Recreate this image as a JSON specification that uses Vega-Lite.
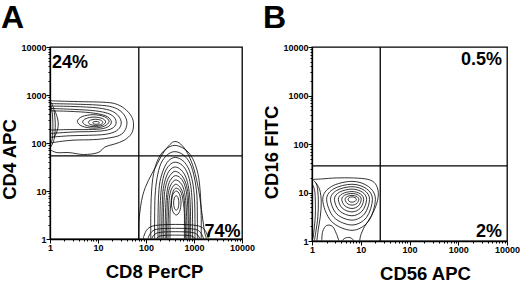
{
  "$schema": "https://vega.github.io/schema/vega-lite/v6.json",
  "padding": {"left": 0, "top": 1, "right": 0, "bottom": 0},
  "spacing": 6,
  "config": {
    "font": "Liberation Sans",
    "view": {"stroke": "black", "strokeWidth": 1.3},
    "axis": {
      "grid": false, "domainColor": "black", "domainWidth": 1.3, "tickColor": "black", "tickWidth": 1, "tickCount": 100,
      "labelColor": "black", "titleColor": "black", "labelFontSize": 9, "labelFontWeight": "bold",
      "titleFontSize": 18.5, "titleFontWeight": "bold", "labelFlush": false, "labelOverlap": false, "labelPadding": 0
    },
    "title": {"fontSize": 32, "fontWeight": "bold", "anchor": "start", "color": "black", "offset": 8}
  },
  "datasets": {
    "a_open": [
      {"ring":"R1","i":0,"cd8":0.02,"cd4":2.88},{"ring":"R1","i":1,"cd8":0.3,"cd4":2.87},{"ring":"R1","i":2,"cd8":0.7,"cd4":2.86},{"ring":"R1","i":3,"cd8":1.1,"cd4":2.85},{"ring":"R1","i":4,"cd8":1.35,"cd4":2.82},{"ring":"R1","i":5,"cd8":1.55,"cd4":2.72},{"ring":"R1","i":6,"cd8":1.7,"cd4":2.55},{"ring":"R1","i":7,"cd8":1.74,"cd4":2.38},{"ring":"R1","i":8,"cd8":1.7,"cd4":2.2},{"ring":"R1","i":9,"cd8":1.55,"cd4":2.06},{"ring":"R1","i":10,"cd8":1.35,"cd4":1.98},{"ring":"R1","i":11,"cd8":1.15,"cd4":1.92},{"ring":"R1","i":12,"cd8":1.0,"cd4":1.8},{"ring":"R1","i":13,"cd8":0.7,"cd4":1.76},{"ring":"R1","i":14,"cd8":0.4,"cd4":1.8},{"ring":"R1","i":15,"cd8":0.15,"cd4":1.8},{"ring":"R1","i":16,"cd8":0.02,"cd4":1.85},
      {"ring":"R2","i":0,"cd8":0.02,"cd4":2.82},{"ring":"R2","i":1,"cd8":0.5,"cd4":2.81},{"ring":"R2","i":2,"cd8":1.0,"cd4":2.79},{"ring":"R2","i":3,"cd8":1.3,"cd4":2.75},{"ring":"R2","i":4,"cd8":1.5,"cd4":2.64},{"ring":"R2","i":5,"cd8":1.6,"cd4":2.46},{"ring":"R2","i":6,"cd8":1.57,"cd4":2.28},{"ring":"R2","i":7,"cd8":1.45,"cd4":2.16},{"ring":"R2","i":8,"cd8":1.2,"cd4":2.1},{"ring":"R2","i":9,"cd8":0.9,"cd4":2.07},{"ring":"R2","i":10,"cd8":0.5,"cd4":2.06},{"ring":"R2","i":11,"cd8":0.2,"cd4":2.03},{"ring":"R2","i":12,"cd8":0.02,"cd4":2.0},
      {"ring":"R3","i":0,"cd8":0.02,"cd4":2.77},{"ring":"R3","i":1,"cd8":0.5,"cd4":2.76},{"ring":"R3","i":2,"cd8":1.0,"cd4":2.73},{"ring":"R3","i":3,"cd8":1.3,"cd4":2.66},{"ring":"R3","i":4,"cd8":1.45,"cd4":2.53},{"ring":"R3","i":5,"cd8":1.48,"cd4":2.38},{"ring":"R3","i":6,"cd8":1.38,"cd4":2.25},{"ring":"R3","i":7,"cd8":1.15,"cd4":2.18},{"ring":"R3","i":8,"cd8":0.8,"cd4":2.16},{"ring":"R3","i":9,"cd8":0.4,"cd4":2.15},{"ring":"R3","i":10,"cd8":0.02,"cd4":2.12},
      {"ring":"R4","i":0,"cd8":0.02,"cd4":2.72},{"ring":"R4","i":1,"cd8":0.5,"cd4":2.7},{"ring":"R4","i":2,"cd8":0.95,"cd4":2.67},{"ring":"R4","i":3,"cd8":1.25,"cd4":2.6},{"ring":"R4","i":4,"cd8":1.37,"cd4":2.48},{"ring":"R4","i":5,"cd8":1.35,"cd4":2.35},{"ring":"R4","i":6,"cd8":1.2,"cd4":2.27},{"ring":"R4","i":7,"cd8":0.9,"cd4":2.24},{"ring":"R4","i":8,"cd8":0.5,"cd4":2.23},{"ring":"R4","i":9,"cd8":0.02,"cd4":2.2},
      {"ring":"R5","i":0,"cd8":0.02,"cd4":2.67},{"ring":"R5","i":1,"cd8":0.4,"cd4":2.66},{"ring":"R5","i":2,"cd8":0.85,"cd4":2.63},{"ring":"R5","i":3,"cd8":1.15,"cd4":2.57},{"ring":"R5","i":4,"cd8":1.27,"cd4":2.47},{"ring":"R5","i":5,"cd8":1.25,"cd4":2.37},{"ring":"R5","i":6,"cd8":1.1,"cd4":2.3},{"ring":"R5","i":7,"cd8":0.8,"cd4":2.28},{"ring":"R5","i":8,"cd8":0.4,"cd4":2.28},{"ring":"R5","i":9,"cd8":0.02,"cd4":2.27},
      {"ring":"H1","i":0,"cd8":0.02,"cd4":2.85},{"ring":"H1","i":1,"cd8":0.08,"cd4":2.7},{"ring":"H1","i":2,"cd8":0.11,"cd4":2.4},{"ring":"H1","i":3,"cd8":0.09,"cd4":2.1},{"ring":"H1","i":4,"cd8":0.02,"cd4":1.92},
      {"ring":"H2","i":0,"cd8":0.02,"cd4":2.78},{"ring":"H2","i":1,"cd8":0.05,"cd4":2.6},{"ring":"H2","i":2,"cd8":0.06,"cd4":2.35},{"ring":"H2","i":3,"cd8":0.05,"cd4":2.1},{"ring":"H2","i":4,"cd8":0.02,"cd4":2.0},
      {"ring":"H3","i":0,"cd8":0.1,"cd4":2.68},{"ring":"H3","i":1,"cd8":0.16,"cd4":2.5},{"ring":"H3","i":2,"cd8":0.17,"cd4":2.35},{"ring":"H3","i":3,"cd8":0.13,"cd4":2.2},{"ring":"H3","i":4,"cd8":0.08,"cd4":2.12},
      {"ring":"W0","i":0,"cd8":1.85,"cd4":0.01},{"ring":"W0","i":1,"cd8":1.86,"cd4":0.45},{"ring":"W0","i":2,"cd8":1.93,"cd4":0.9},{"ring":"W0","i":3,"cd8":2.05,"cd4":1.22},{"ring":"W0","i":4,"cd8":2.2,"cd4":1.5},{"ring":"W0","i":5,"cd8":2.35,"cd4":1.78},{"ring":"W0","i":6,"cd8":2.5,"cd4":1.97},{"ring":"W0","i":7,"cd8":2.6,"cd4":2.03},{"ring":"W0","i":8,"cd8":2.72,"cd4":1.98},{"ring":"W0","i":9,"cd8":2.87,"cd4":1.78},{"ring":"W0","i":10,"cd8":3.0,"cd4":1.45},{"ring":"W0","i":11,"cd8":3.1,"cd4":1.0},{"ring":"W0","i":12,"cd8":3.17,"cd4":0.5},{"ring":"W0","i":13,"cd8":3.22,"cd4":0.15},{"ring":"W0","i":14,"cd8":3.26,"cd4":0.01},
      {"ring":"A1","i":0,"cd8":2.1,"cd4":0.01},{"ring":"A1","i":1,"cd8":2.1,"cd4":0.49},{"ring":"A1","i":2,"cd8":2.115,"cd4":0.98},{"ring":"A1","i":3,"cd8":2.16,"cd4":1.37},{"ring":"A1","i":4,"cd8":2.26,"cd4":1.68},{"ring":"A1","i":5,"cd8":2.41,"cd4":1.87},{"ring":"A1","i":6,"cd8":2.6,"cd4":1.95},{"ring":"A1","i":7,"cd8":2.81,"cd4":1.87},{"ring":"A1","i":8,"cd8":2.97,"cd4":1.68},{"ring":"A1","i":9,"cd8":3.08,"cd4":1.37},{"ring":"A1","i":10,"cd8":3.13,"cd4":0.98},{"ring":"A1","i":11,"cd8":3.15,"cd4":0.49},{"ring":"A1","i":12,"cd8":3.15,"cd4":0.01},
      {"ring":"A2","i":0,"cd8":2.18,"cd4":0.01},{"ring":"A2","i":1,"cd8":2.18,"cd4":0.46},{"ring":"A2","i":2,"cd8":2.19,"cd4":0.91},{"ring":"A2","i":3,"cd8":2.23,"cd4":1.27},{"ring":"A2","i":4,"cd8":2.31,"cd4":1.57},{"ring":"A2","i":5,"cd8":2.44,"cd4":1.75},{"ring":"A2","i":6,"cd8":2.6,"cd4":1.82},{"ring":"A2","i":7,"cd8":2.78,"cd4":1.75},{"ring":"A2","i":8,"cd8":2.92,"cd4":1.57},{"ring":"A2","i":9,"cd8":3.01,"cd4":1.27},{"ring":"A2","i":10,"cd8":3.06,"cd4":0.91},{"ring":"A2","i":11,"cd8":3.07,"cd4":0.46},{"ring":"A2","i":12,"cd8":3.07,"cd4":0.01},
      {"ring":"A3","i":0,"cd8":2.25,"cd4":0.01},{"ring":"A3","i":1,"cd8":2.25,"cd4":0.43},{"ring":"A3","i":2,"cd8":2.26,"cd4":0.85},{"ring":"A3","i":3,"cd8":2.29,"cd4":1.19},{"ring":"A3","i":4,"cd8":2.37,"cd4":1.46},{"ring":"A3","i":5,"cd8":2.47,"cd4":1.63},{"ring":"A3","i":6,"cd8":2.61,"cd4":1.7},{"ring":"A3","i":7,"cd8":2.77,"cd4":1.63},{"ring":"A3","i":8,"cd8":2.89,"cd4":1.46},{"ring":"A3","i":9,"cd8":2.97,"cd4":1.19},{"ring":"A3","i":10,"cd8":3.01,"cd4":0.85},{"ring":"A3","i":11,"cd8":3.02,"cd4":0.43},{"ring":"A3","i":12,"cd8":3.02,"cd4":0.01},
      {"ring":"A4","i":0,"cd8":2.29,"cd4":0.01},{"ring":"A4","i":1,"cd8":2.29,"cd4":0.4},{"ring":"A4","i":2,"cd8":2.3,"cd4":0.8},{"ring":"A4","i":3,"cd8":2.33,"cd4":1.12},{"ring":"A4","i":4,"cd8":2.39,"cd4":1.38},{"ring":"A4","i":5,"cd8":2.49,"cd4":1.54},{"ring":"A4","i":6,"cd8":2.61,"cd4":1.6},{"ring":"A4","i":7,"cd8":2.75,"cd4":1.54},{"ring":"A4","i":8,"cd8":2.86,"cd4":1.38},{"ring":"A4","i":9,"cd8":2.93,"cd4":1.12},{"ring":"A4","i":10,"cd8":2.96,"cd4":0.8},{"ring":"A4","i":11,"cd8":2.97,"cd4":0.4},{"ring":"A4","i":12,"cd8":2.97,"cd4":0.01},
      {"ring":"A5","i":0,"cd8":2.33,"cd4":0.01},{"ring":"A5","i":1,"cd8":2.33,"cd4":0.38},{"ring":"A5","i":2,"cd8":2.34,"cd4":0.75},{"ring":"A5","i":3,"cd8":2.36,"cd4":1.05},{"ring":"A5","i":4,"cd8":2.42,"cd4":1.29},{"ring":"A5","i":5,"cd8":2.5,"cd4":1.44},{"ring":"A5","i":6,"cd8":2.61,"cd4":1.5},{"ring":"A5","i":7,"cd8":2.73,"cd4":1.44},{"ring":"A5","i":8,"cd8":2.83,"cd4":1.29},{"ring":"A5","i":9,"cd8":2.89,"cd4":1.05},{"ring":"A5","i":10,"cd8":2.92,"cd4":0.75},{"ring":"A5","i":11,"cd8":2.93,"cd4":0.38},{"ring":"A5","i":12,"cd8":2.93,"cd4":0.01},
      {"ring":"A6","i":0,"cd8":2.36,"cd4":0.01},{"ring":"A6","i":1,"cd8":2.36,"cd4":0.35},{"ring":"A6","i":2,"cd8":2.37,"cd4":0.71},{"ring":"A6","i":3,"cd8":2.39,"cd4":0.99},{"ring":"A6","i":4,"cd8":2.44,"cd4":1.21},{"ring":"A6","i":5,"cd8":2.52,"cd4":1.35},{"ring":"A6","i":6,"cd8":2.61,"cd4":1.41},{"ring":"A6","i":7,"cd8":2.72,"cd4":1.35},{"ring":"A6","i":8,"cd8":2.81,"cd4":1.21},{"ring":"A6","i":9,"cd8":2.87,"cd4":0.99},{"ring":"A6","i":10,"cd8":2.89,"cd4":0.71},{"ring":"A6","i":11,"cd8":2.9,"cd4":0.35},{"ring":"A6","i":12,"cd8":2.9,"cd4":0.01},
      {"ring":"A7","i":0,"cd8":2.4,"cd4":0.01},{"ring":"A7","i":1,"cd8":2.4,"cd4":0.33},{"ring":"A7","i":2,"cd8":2.41,"cd4":0.66},{"ring":"A7","i":3,"cd8":2.43,"cd4":0.92},{"ring":"A7","i":4,"cd8":2.47,"cd4":1.14},{"ring":"A7","i":5,"cd8":2.54,"cd4":1.27},{"ring":"A7","i":6,"cd8":2.62,"cd4":1.32},{"ring":"A7","i":7,"cd8":2.72,"cd4":1.27},{"ring":"A7","i":8,"cd8":2.8,"cd4":1.14},{"ring":"A7","i":9,"cd8":2.85,"cd4":0.92},{"ring":"A7","i":10,"cd8":2.87,"cd4":0.66},{"ring":"A7","i":11,"cd8":2.88,"cd4":0.33},{"ring":"A7","i":12,"cd8":2.88,"cd4":0.01},
      {"ring":"A8","i":0,"cd8":2.43,"cd4":0.01},{"ring":"A8","i":1,"cd8":2.43,"cd4":0.31},{"ring":"A8","i":2,"cd8":2.44,"cd4":0.62},{"ring":"A8","i":3,"cd8":2.45,"cd4":0.86},{"ring":"A8","i":4,"cd8":2.49,"cd4":1.06},{"ring":"A8","i":5,"cd8":2.55,"cd4":1.18},{"ring":"A8","i":6,"cd8":2.62,"cd4":1.23},{"ring":"A8","i":7,"cd8":2.71,"cd4":1.18},{"ring":"A8","i":8,"cd8":2.78,"cd4":1.06},{"ring":"A8","i":9,"cd8":2.82,"cd4":0.86},{"ring":"A8","i":10,"cd8":2.84,"cd4":0.62},{"ring":"A8","i":11,"cd8":2.85,"cd4":0.31},{"ring":"A8","i":12,"cd8":2.85,"cd4":0.01},
      {"ring":"A9","i":0,"cd8":2.46,"cd4":0.01},{"ring":"A9","i":1,"cd8":2.46,"cd4":0.29},{"ring":"A9","i":2,"cd8":2.47,"cd4":0.57},{"ring":"A9","i":3,"cd8":2.48,"cd4":0.8},{"ring":"A9","i":4,"cd8":2.51,"cd4":0.98},{"ring":"A9","i":5,"cd8":2.56,"cd4":1.09},{"ring":"A9","i":6,"cd8":2.62,"cd4":1.14},{"ring":"A9","i":7,"cd8":2.7,"cd4":1.09},{"ring":"A9","i":8,"cd8":2.76,"cd4":0.98},{"ring":"A9","i":9,"cd8":2.8,"cd4":0.8},{"ring":"A9","i":10,"cd8":2.81,"cd4":0.57},{"ring":"A9","i":11,"cd8":2.82,"cd4":0.29},{"ring":"A9","i":12,"cd8":2.82,"cd4":0.01},
      {"ring":"A10","i":0,"cd8":2.5,"cd4":0.01},{"ring":"A10","i":1,"cd8":2.5,"cd4":0.27},{"ring":"A10","i":2,"cd8":2.5,"cd4":0.53},{"ring":"A10","i":3,"cd8":2.52,"cd4":0.74},{"ring":"A10","i":4,"cd8":2.54,"cd4":0.91},{"ring":"A10","i":5,"cd8":2.58,"cd4":1.02},{"ring":"A10","i":6,"cd8":2.63,"cd4":1.06},{"ring":"A10","i":7,"cd8":2.7,"cd4":1.02},{"ring":"A10","i":8,"cd8":2.75,"cd4":0.91},{"ring":"A10","i":9,"cd8":2.78,"cd4":0.74},{"ring":"A10","i":10,"cd8":2.8,"cd4":0.53},{"ring":"A10","i":11,"cd8":2.8,"cd4":0.27},{"ring":"A10","i":12,"cd8":2.8,"cd4":0.01},
      {"ring":"B1","i":0,"cd8":1.94,"cd4":0.01},{"ring":"B1","i":1,"cd8":2.01,"cd4":0.18},{"ring":"B1","i":2,"cd8":2.14,"cd4":0.27},{"ring":"B1","i":3,"cd8":2.42,"cd4":0.3},{"ring":"B1","i":4,"cd8":2.82,"cd4":0.3},{"ring":"B1","i":5,"cd8":3.1,"cd4":0.27},{"ring":"B1","i":6,"cd8":3.23,"cd4":0.18},{"ring":"B1","i":7,"cd8":3.3,"cd4":0.01},
      {"ring":"B2","i":0,"cd8":2.04,"cd4":0.01},{"ring":"B2","i":1,"cd8":2.1,"cd4":0.13},{"ring":"B2","i":2,"cd8":2.21,"cd4":0.2},{"ring":"B2","i":3,"cd8":2.45,"cd4":0.22},{"ring":"B2","i":4,"cd8":2.79,"cd4":0.22},{"ring":"B2","i":5,"cd8":3.03,"cd4":0.2},{"ring":"B2","i":6,"cd8":3.14,"cd4":0.13},{"ring":"B2","i":7,"cd8":3.2,"cd4":0.01},
      {"ring":"B3","i":0,"cd8":2.12,"cd4":0.01},{"ring":"B3","i":1,"cd8":2.17,"cd4":0.09},{"ring":"B3","i":2,"cd8":2.27,"cd4":0.135},{"ring":"B3","i":3,"cd8":2.47,"cd4":0.15},{"ring":"B3","i":4,"cd8":2.77,"cd4":0.15},{"ring":"B3","i":5,"cd8":2.97,"cd4":0.135},{"ring":"B3","i":6,"cd8":3.07,"cd4":0.09},{"ring":"B3","i":7,"cd8":3.12,"cd4":0.01},
      {"ring":"B4","i":0,"cd8":2.22,"cd4":0.01},{"ring":"B4","i":1,"cd8":2.26,"cd4":0.05},{"ring":"B4","i":2,"cd8":2.34,"cd4":0.07},{"ring":"B4","i":3,"cd8":2.5,"cd4":0.08},{"ring":"B4","i":4,"cd8":2.74,"cd4":0.08},{"ring":"B4","i":5,"cd8":2.9,"cd4":0.07},{"ring":"B4","i":6,"cd8":2.98,"cd4":0.05},{"ring":"B4","i":7,"cd8":3.02,"cd4":0.01}
    ],
    "a_closed": [
      {"ring":"E1","i":0,"cd8":1.23,"cd4":2.45},{"ring":"E1","i":1,"cd8":1.133,"cd4":2.549},{"ring":"E1","i":2,"cd8":0.9,"cd4":2.59},{"ring":"E1","i":3,"cd8":0.667,"cd4":2.549},{"ring":"E1","i":4,"cd8":0.57,"cd4":2.45},{"ring":"E1","i":5,"cd8":0.667,"cd4":2.351},{"ring":"E1","i":6,"cd8":0.9,"cd4":2.31},{"ring":"E1","i":7,"cd8":1.133,"cd4":2.351},
      {"ring":"E2","i":0,"cd8":1.16,"cd4":2.44},{"ring":"E2","i":1,"cd8":1.09,"cd4":2.51},{"ring":"E2","i":2,"cd8":0.92,"cd4":2.54},{"ring":"E2","i":3,"cd8":0.75,"cd4":2.51},{"ring":"E2","i":4,"cd8":0.68,"cd4":2.44},{"ring":"E2","i":5,"cd8":0.75,"cd4":2.37},{"ring":"E2","i":6,"cd8":0.92,"cd4":2.34},{"ring":"E2","i":7,"cd8":1.09,"cd4":2.37},
      {"ring":"E3","i":0,"cd8":1.1,"cd4":2.43},{"ring":"E3","i":1,"cd8":1.056,"cd4":2.476},{"ring":"E3","i":2,"cd8":0.95,"cd4":2.495},{"ring":"E3","i":3,"cd8":0.844,"cd4":2.476},{"ring":"E3","i":4,"cd8":0.8,"cd4":2.43},{"ring":"E3","i":5,"cd8":0.844,"cd4":2.384},{"ring":"E3","i":6,"cd8":0.95,"cd4":2.365},{"ring":"E3","i":7,"cd8":1.056,"cd4":2.384},
      {"ring":"E4","i":0,"cd8":1.03,"cd4":2.42},{"ring":"E4","i":1,"cd8":1.01,"cd4":2.441},{"ring":"E4","i":2,"cd8":0.96,"cd4":2.45},{"ring":"E4","i":3,"cd8":0.91,"cd4":2.441},{"ring":"E4","i":4,"cd8":0.89,"cd4":2.42},{"ring":"E4","i":5,"cd8":0.91,"cd4":2.399},{"ring":"E4","i":6,"cd8":0.96,"cd4":2.39},{"ring":"E4","i":7,"cd8":1.01,"cd4":2.399},
      {"ring":"F1","i":0,"cd8":2.73,"cd4":0.75},{"ring":"F1","i":1,"cd8":2.7,"cd4":0.927},{"ring":"F1","i":2,"cd8":2.63,"cd4":1.0},{"ring":"F1","i":3,"cd8":2.56,"cd4":0.927},{"ring":"F1","i":4,"cd8":2.53,"cd4":0.75},{"ring":"F1","i":5,"cd8":2.56,"cd4":0.573},{"ring":"F1","i":6,"cd8":2.63,"cd4":0.5},{"ring":"F1","i":7,"cd8":2.7,"cd4":0.573},
      {"ring":"F2","i":0,"cd8":2.685,"cd4":0.75},{"ring":"F2","i":1,"cd8":2.669,"cd4":0.856},{"ring":"F2","i":2,"cd8":2.63,"cd4":0.9},{"ring":"F2","i":3,"cd8":2.591,"cd4":0.856},{"ring":"F2","i":4,"cd8":2.575,"cd4":0.75},{"ring":"F2","i":5,"cd8":2.591,"cd4":0.644},{"ring":"F2","i":6,"cd8":2.63,"cd4":0.6},{"ring":"F2","i":7,"cd8":2.669,"cd4":0.644}
    ],
    "b_open": [
      {"ring":"O1","i":0,"cd56":0.02,"cd16":1.27},{"ring":"O1","i":1,"cd56":0.2,"cd16":1.28},{"ring":"O1","i":2,"cd56":0.5,"cd16":1.3},{"ring":"O1","i":3,"cd56":0.85,"cd16":1.3},{"ring":"O1","i":4,"cd56":1.15,"cd16":1.27},{"ring":"O1","i":5,"cd56":1.3,"cd16":1.18},{"ring":"O1","i":6,"cd56":1.36,"cd16":1.0},{"ring":"O1","i":7,"cd56":1.33,"cd16":0.78},{"ring":"O1","i":8,"cd56":1.22,"cd16":0.52},{"ring":"O1","i":9,"cd56":1.08,"cd16":0.3},{"ring":"O1","i":10,"cd56":1.0,"cd16":0.12},{"ring":"O1","i":11,"cd56":0.98,"cd16":0.01},
      {"ring":"L1","i":0,"cd56":0.03,"cd16":1.25},{"ring":"L1","i":1,"cd56":0.1,"cd16":1.15},{"ring":"L1","i":2,"cd56":0.13,"cd16":0.85},{"ring":"L1","i":3,"cd56":0.12,"cd16":0.5},{"ring":"L1","i":4,"cd56":0.08,"cd16":0.2},{"ring":"L1","i":5,"cd56":0.05,"cd16":0.01},
      {"ring":"L2","i":0,"cd56":0.08,"cd16":1.2},{"ring":"L2","i":1,"cd56":0.16,"cd16":1.05},{"ring":"L2","i":2,"cd56":0.19,"cd16":0.8},{"ring":"L2","i":3,"cd56":0.17,"cd16":0.5},{"ring":"L2","i":4,"cd56":0.13,"cd16":0.25},{"ring":"L2","i":5,"cd56":0.1,"cd16":0.01},
      {"ring":"L3","i":0,"cd56":0.02,"cd16":1.15},{"ring":"L3","i":1,"cd56":0.06,"cd16":1.0},{"ring":"L3","i":2,"cd56":0.07,"cd16":0.6},{"ring":"L3","i":3,"cd56":0.05,"cd16":0.3},{"ring":"L3","i":4,"cd56":0.02,"cd16":0.05},
      {"ring":"M1","i":0,"cd56":0.2,"cd16":0.01},{"ring":"M1","i":1,"cd56":0.22,"cd16":0.2},{"ring":"M1","i":2,"cd56":0.3,"cd16":0.32},{"ring":"M1","i":3,"cd56":0.42,"cd16":0.3},{"ring":"M1","i":4,"cd56":0.5,"cd16":0.15},{"ring":"M1","i":5,"cd56":0.55,"cd16":0.01},
      {"ring":"S1","i":0,"cd56":0.62,"cd16":0.01},{"ring":"S1","i":1,"cd56":0.68,"cd16":0.06},{"ring":"S1","i":2,"cd56":0.78,"cd16":0.07},{"ring":"S1","i":3,"cd56":0.86,"cd16":0.01}
    ],
    "b_closed": [
      {"ring":"C1","i":0,"cd56":1.3,"cd16":0.86},{"ring":"C1","i":1,"cd56":1.159,"cd16":1.122},{"ring":"C1","i":2,"cd56":0.82,"cd16":1.23},{"ring":"C1","i":3,"cd56":0.396,"cd16":1.122},{"ring":"C1","i":4,"cd56":0.22,"cd16":0.86},{"ring":"C1","i":5,"cd56":0.396,"cd16":0.408},{"ring":"C1","i":6,"cd56":0.82,"cd16":0.22},{"ring":"C1","i":7,"cd56":1.159,"cd16":0.408},
      {"ring":"C2","i":0,"cd56":1.24,"cd16":0.86},{"ring":"C2","i":1,"cd56":1.117,"cd16":1.079},{"ring":"C2","i":2,"cd56":0.82,"cd16":1.17},{"ring":"C2","i":3,"cd56":0.452,"cd16":1.079},{"ring":"C2","i":4,"cd56":0.3,"cd16":0.86},{"ring":"C2","i":5,"cd56":0.452,"cd16":0.485},{"ring":"C2","i":6,"cd56":0.82,"cd16":0.33},{"ring":"C2","i":7,"cd56":1.117,"cd16":0.485},
      {"ring":"C3","i":0,"cd56":1.18,"cd16":0.86},{"ring":"C3","i":1,"cd56":1.075,"cd16":1.044},{"ring":"C3","i":2,"cd56":0.82,"cd16":1.12},{"ring":"C3","i":3,"cd56":0.509,"cd16":1.044},{"ring":"C3","i":4,"cd56":0.38,"cd16":0.86},{"ring":"C3","i":5,"cd56":0.509,"cd16":0.556},{"ring":"C3","i":6,"cd56":0.82,"cd16":0.43},{"ring":"C3","i":7,"cd56":1.075,"cd16":0.556},
      {"ring":"C4","i":0,"cd56":1.12,"cd16":0.86},{"ring":"C4","i":1,"cd56":1.032,"cd16":1.008},{"ring":"C4","i":2,"cd56":0.82,"cd16":1.07},{"ring":"C4","i":3,"cd56":0.565,"cd16":1.008},{"ring":"C4","i":4,"cd56":0.46,"cd16":0.86},{"ring":"C4","i":5,"cd56":0.565,"cd16":0.62},{"ring":"C4","i":6,"cd56":0.82,"cd16":0.52},{"ring":"C4","i":7,"cd56":1.032,"cd16":0.62},
      {"ring":"C5","i":0,"cd56":1.06,"cd16":0.86},{"ring":"C5","i":1,"cd56":0.99,"cd16":0.973},{"ring":"C5","i":2,"cd56":0.82,"cd16":1.02},{"ring":"C5","i":3,"cd56":0.622,"cd16":0.973},{"ring":"C5","i":4,"cd56":0.54,"cd16":0.86},{"ring":"C5","i":5,"cd56":0.622,"cd16":0.676},{"ring":"C5","i":6,"cd56":0.82,"cd16":0.6},{"ring":"C5","i":7,"cd56":0.99,"cd16":0.676},
      {"ring":"C6","i":0,"cd56":1.01,"cd16":0.86},{"ring":"C6","i":1,"cd56":0.954,"cd16":0.945},{"ring":"C6","i":2,"cd56":0.82,"cd16":0.98},{"ring":"C6","i":3,"cd56":0.672,"cd16":0.945},{"ring":"C6","i":4,"cd56":0.61,"cd16":0.86},{"ring":"C6","i":5,"cd56":0.672,"cd16":0.726},{"ring":"C6","i":6,"cd56":0.82,"cd16":0.67},{"ring":"C6","i":7,"cd56":0.954,"cd16":0.726},
      {"ring":"C7","i":0,"cd56":0.96,"cd16":0.86},{"ring":"C7","i":1,"cd56":0.919,"cd16":0.917},{"ring":"C7","i":2,"cd56":0.82,"cd16":0.94},{"ring":"C7","i":3,"cd56":0.721,"cd16":0.917},{"ring":"C7","i":4,"cd56":0.68,"cd16":0.86},{"ring":"C7","i":5,"cd56":0.721,"cd16":0.775},{"ring":"C7","i":6,"cd56":0.82,"cd16":0.74},{"ring":"C7","i":7,"cd56":0.919,"cd16":0.775},
      {"ring":"C8","i":0,"cd56":0.91,"cd16":0.86},{"ring":"C8","i":1,"cd56":0.884,"cd16":0.895},{"ring":"C8","i":2,"cd56":0.82,"cd16":0.91},{"ring":"C8","i":3,"cd56":0.763,"cd16":0.895},{"ring":"C8","i":4,"cd56":0.74,"cd16":0.86},{"ring":"C8","i":5,"cd56":0.763,"cd16":0.818},{"ring":"C8","i":6,"cd56":0.82,"cd16":0.8},{"ring":"C8","i":7,"cd56":0.884,"cd16":0.818}
    ]
  },
  "hconcat": [
    {
      "title": {"text": "A"},
      "width": 192,
      "height": 192,
      "layer": [
        {
          "data": {"name": "a_open"},
          "mark": {"type": "line", "interpolate": "cardinal", "stroke": "black", "strokeWidth": 0.8},
          "encoding": {
            "x": {"field": "cd8", "type": "quantitative", "scale": {"domain": [0, 4], "nice": false, "zero": false},
              "axis": {"title": "CD8 PerCP", "titleX": 104, "titlePadding": 10,
                "values": [0,0.301,0.477,0.602,0.699,0.778,0.845,0.903,0.954,1,1.301,1.477,1.602,1.699,1.778,1.845,1.903,1.954,2,2.301,2.477,2.602,2.699,2.778,2.845,2.903,2.954,3,3.301,3.477,3.602,3.699,3.778,3.845,3.903,3.954,4],
                "labelExpr": "datum.value % 1 === 0 ? format(pow(10, datum.value), 'd') : ''",
                "tickSize": {"condition": {"test": "datum.value % 1 === 0", "value": 4}, "value": 2}}},
            "y": {"field": "cd4", "type": "quantitative", "scale": {"domain": [0, 4], "nice": false, "zero": false},
              "axis": {"title": "CD4 APC", "titleY": 112, "titlePadding": 1,
                "values": [0,0.301,0.477,0.602,0.699,0.778,0.845,0.903,0.954,1,1.301,1.477,1.602,1.699,1.778,1.845,1.903,1.954,2,2.301,2.477,2.602,2.699,2.778,2.845,2.903,2.954,3,3.301,3.477,3.602,3.699,3.778,3.845,3.903,3.954,4],
                "labelExpr": "datum.value % 1 === 0 ? format(pow(10, datum.value), 'd') : ''",
                "tickSize": {"condition": {"test": "datum.value % 1 === 0", "value": 4}, "value": 2}}},
            "detail": {"field": "ring"},
            "order": {"field": "i", "type": "quantitative"}
          }
        },
        {
          "data": {"name": "a_closed"},
          "mark": {"type": "line", "interpolate": "cardinal-closed", "stroke": "black", "strokeWidth": 0.8},
          "encoding": {
            "x": {"field": "cd8", "type": "quantitative"},
            "y": {"field": "cd4", "type": "quantitative"},
            "detail": {"field": "ring"},
            "order": {"field": "i", "type": "quantitative"}
          }
        },
        {
          "data": {"values": [{"cd8": 1.85}]},
          "mark": {"type": "rule", "stroke": "black", "strokeWidth": 1.3},
          "encoding": {"x": {"field": "cd8", "type": "quantitative"}}
        },
        {
          "data": {"values": [{"cd4": 1.73}]},
          "mark": {"type": "rule", "stroke": "black", "strokeWidth": 1.3},
          "encoding": {"y": {"field": "cd4", "type": "quantitative"}}
        },
        {
          "data": {"values": [{"label": "24%", "cd8": 0.04, "cd4": 3.57}]},
          "mark": {"type": "text", "align": "left", "baseline": "alphabetic", "fontSize": 18, "fontWeight": "bold", "color": "black"},
          "encoding": {"x": {"field": "cd8", "type": "quantitative"}, "y": {"field": "cd4", "type": "quantitative"}, "text": {"field": "label"}}
        },
        {
          "data": {"values": [{"label": "74%", "cd8": 3.97, "cd4": 0.05}]},
          "mark": {"type": "text", "align": "right", "baseline": "alphabetic", "fontSize": 18, "fontWeight": "bold", "color": "black"},
          "encoding": {"x": {"field": "cd8", "type": "quantitative"}, "y": {"field": "cd4", "type": "quantitative"}, "text": {"field": "label"}}
        }
      ]
    },
    {
      "title": {"text": "B"},
      "width": 195,
      "height": 194,
      "layer": [
        {
          "data": {"name": "b_open"},
          "mark": {"type": "line", "interpolate": "cardinal", "stroke": "black", "strokeWidth": 0.8},
          "encoding": {
            "x": {"field": "cd56", "type": "quantitative", "scale": {"domain": [0, 4], "nice": false, "zero": false},
              "axis": {"title": "CD56 APC", "titleX": 113, "titlePadding": 10,
                "values": [0,0.301,0.477,0.602,0.699,0.778,0.845,0.903,0.954,1,1.301,1.477,1.602,1.699,1.778,1.845,1.903,1.954,2,2.301,2.477,2.602,2.699,2.778,2.845,2.903,2.954,3,3.301,3.477,3.602,3.699,3.778,3.845,3.903,3.954,4],
                "labelExpr": "datum.value % 1 === 0 ? format(pow(10, datum.value), 'd') : ''",
                "tickSize": {"condition": {"test": "datum.value % 1 === 0", "value": 4}, "value": 2}}},
            "y": {"field": "cd16", "type": "quantitative", "scale": {"domain": [0, 4], "nice": false, "zero": false},
              "axis": {"title": "CD16 FITC", "titleY": 105, "titlePadding": 1,
                "values": [0,0.301,0.477,0.602,0.699,0.778,0.845,0.903,0.954,1,1.301,1.477,1.602,1.699,1.778,1.845,1.903,1.954,2,2.301,2.477,2.602,2.699,2.778,2.845,2.903,2.954,3,3.301,3.477,3.602,3.699,3.778,3.845,3.903,3.954,4],
                "labelExpr": "datum.value % 1 === 0 ? format(pow(10, datum.value), 'd') : ''",
                "tickSize": {"condition": {"test": "datum.value % 1 === 0", "value": 4}, "value": 2}}},
            "detail": {"field": "ring"},
            "order": {"field": "i", "type": "quantitative"}
          }
        },
        {
          "data": {"name": "b_closed"},
          "mark": {"type": "line", "interpolate": "cardinal-closed", "stroke": "black", "strokeWidth": 0.8},
          "encoding": {
            "x": {"field": "cd56", "type": "quantitative"},
            "y": {"field": "cd16", "type": "quantitative"},
            "detail": {"field": "ring"},
            "order": {"field": "i", "type": "quantitative"}
          }
        },
        {
          "data": {"values": [{"cd56": 1.4}]},
          "mark": {"type": "rule", "stroke": "black", "strokeWidth": 1.3},
          "encoding": {"x": {"field": "cd56", "type": "quantitative"}}
        },
        {
          "data": {"values": [{"cd16": 1.55}]},
          "mark": {"type": "rule", "stroke": "black", "strokeWidth": 1.3},
          "encoding": {"y": {"field": "cd16", "type": "quantitative"}}
        },
        {
          "data": {"values": [{"label": "0.5%", "cd56": 3.9, "cd16": 3.63}, {"label": "2%", "cd56": 3.9, "cd16": 0.08}]},
          "mark": {"type": "text", "align": "right", "baseline": "alphabetic", "fontSize": 18, "fontWeight": "bold", "color": "black"},
          "encoding": {"x": {"field": "cd56", "type": "quantitative"}, "y": {"field": "cd16", "type": "quantitative"}, "text": {"field": "label"}}
        }
      ]
    }
  ]
}
